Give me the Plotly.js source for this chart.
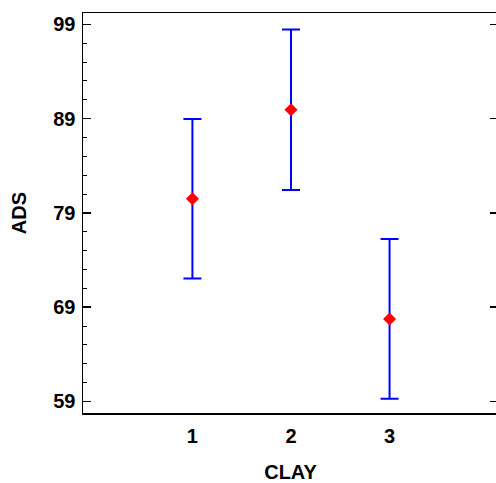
<!DOCTYPE html>
<html>
<head>
<meta charset="utf-8">
<script src="https://cdn.plot.ly/plotly-3.0.1.min.js"></script>
<style>
html,body{margin:0;padding:0;overflow:hidden;background:#fff;width:496px;height:483px;}
#chart{width:502px;height:483px;}
</style>
</head>
<body>
<div id="chart"></div>
<script>
const categories = [1, 2, 3];
const categoryLabels = ["1", "2", "3"];
const means = [80.5, 89.95, 67.75];
const halfIntervals = [8.47, 8.52, 8.48];
const yTickValues = [59, 69, 79, 89, 99];
const yRange = [57.77, 100.21];

const trace = {
  x: categories,
  y: means,
  type: 'scatter',
  mode: 'markers',
  marker: {symbol: 'diamond', size: 10, color: '#ff0000'},
  error_y: {type: 'data', array: halfIntervals, visible: true, color: '#0000ff', thickness: 2, width: 9},
  hoverinfo: 'none'
};

const rightAxisTrace = {
  x: [categories[0]],
  y: [means[0]],
  type: 'scatter',
  mode: 'markers',
  marker: {opacity: 0},
  yaxis: 'y2',
  hoverinfo: 'none'
};

const layout = {
  width: 502,
  height: 483,
  margin: {l: 83, r: 4, t: 13, b: 70, pad: 0},
  paper_bgcolor: '#ffffff',
  plot_bgcolor: '#ffffff',
  showlegend: false,
  font: {family: 'Liberation Sans, Arial, sans-serif', color: '#000000', size: 20},
  xaxis: {
    range: [-0.11, 4.1],
    tickmode: 'array',
    tickvals: categories,
    ticktext: categoryLabels,
    ticks: '',
    ticklabelstandoff: 4,
    showgrid: false,
    zeroline: false,
    showline: true,
    linecolor: '#000000',
    linewidth: 1.5,
    mirror: true,
    tickfont: {size: 20, weight: 'bold'},
    title: {text: 'CLAY', font: {size: 20, weight: 'bold'}, standoff: 24}
  },
  yaxis: {
    range: yRange,
    tickmode: 'array',
    tickvals: yTickValues,
    ticktext: yTickValues.map(String),
    ticks: 'inside',
    ticklen: 8,
    tickwidth: 1.5,
    tickcolor: '#000000',
    ticklabelstandoff: 2,
    minor: {tickmode: 'linear', tick0: 59, dtick: 2, ticks: 'inside', ticklen: 4, tickwidth: 1, tickcolor: '#000000'},
    showgrid: false,
    zeroline: false,
    showline: true,
    linecolor: '#000000',
    linewidth: 1.5,
    mirror: false,
    tickfont: {size: 20, weight: 'bold'},
    title: {text: 'ADS', font: {size: 20, weight: 'bold'}, standoff: 21}
  },
  yaxis2: {
    overlaying: 'y',
    side: 'right',
    range: yRange,
    tickmode: 'array',
    tickvals: yTickValues,
    showticklabels: false,
    ticks: 'inside',
    ticklen: 8,
    tickwidth: 1.5,
    tickcolor: '#000000',
    showgrid: false,
    zeroline: false,
    showline: true,
    linecolor: '#000000',
    linewidth: 1.5
  }
};

Plotly.newPlot('chart', [trace, rightAxisTrace], layout, {staticPlot: true, displayModeBar: false});
</script>
</body>
</html>
